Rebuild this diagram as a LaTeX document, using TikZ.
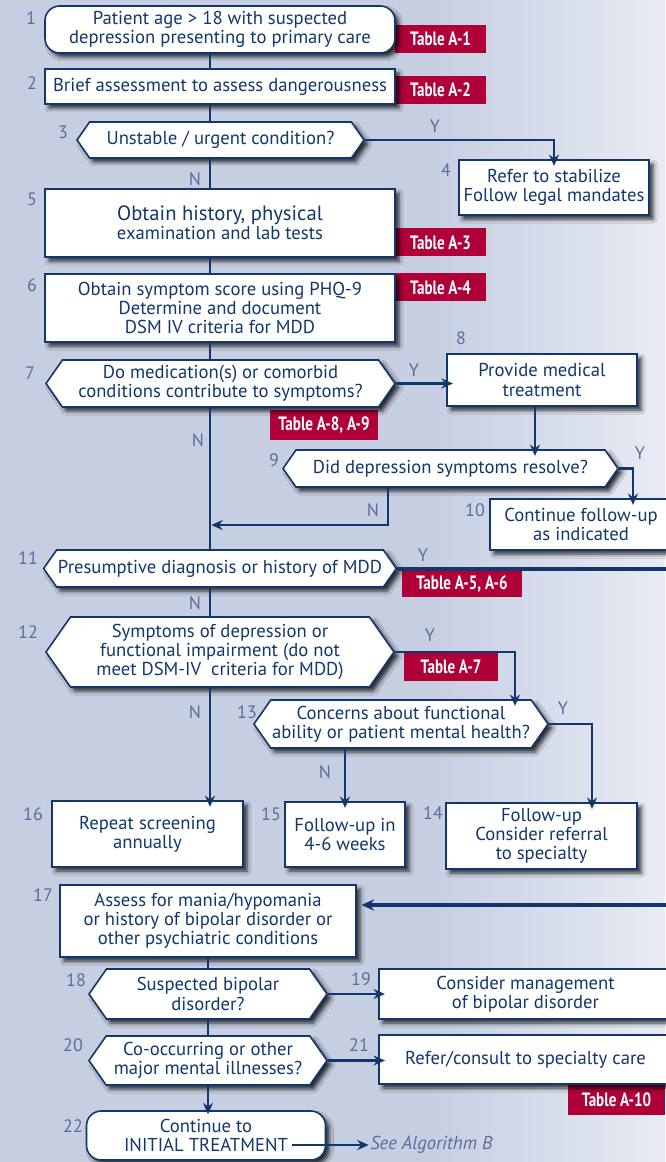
\documentclass[tikz,border=0pt]{standalone}
\usepackage{fontspec}
\setmainfont{PT Sans}
\newfontfamily\tagfont{PT Sans}[FakeStretch=0.78]
\usetikzlibrary{shapes.symbols,arrows.meta,shadows.blur}
\definecolor{bgblue}{RGB}{198,206,226}
\definecolor{bglight}{RGB}{232,235,244}
\definecolor{navy}{RGB}{18,55,108}
\definecolor{numgray}{RGB}{90,110,155}
\definecolor{tagred}{RGB}{175,0,55}
\begin{document}
\begin{tikzpicture}[x=0.75pt,y=-0.75pt,
    boxbase/.style={draw=navy,line width=1.2pt,fill=white,text=navy,align=center,
      inner sep=1pt,font=\fontsize{14}{14.4}\selectfont,
      blur shadow={shadow xshift=3pt,shadow yshift=-3pt,shadow blur radius=3pt,shadow opacity=80}},
    stepbox/.style={boxbase,rectangle},
    startbox/.style={boxbase,rectangle,rounded corners=11pt},
    hexbox/.style={boxbase,signal,signal to=west and east,signal pointer angle=110},
    tagbox/.style={fill=tagred,text=white,inner sep=0pt,font=\tagfont\bfseries\fontsize{14.5}{14.5}\selectfont},
    lbl/.style={text=numgray,inner sep=0pt,font=\fontsize{13.5}{14}\selectfont},
    conn/.style={draw=navy,line width=2.1pt},
    bigconn/.style={draw=navy,line width=3pt},
    arr/.style={conn,-{Stealth[length=8.5pt,width=7.5pt]},shorten >=-5pt},
    bigarr/.style={bigconn,-{Stealth[length=9.5pt,width=8.5pt]},shorten >=3.5pt}]
  \useasboundingbox (0,0) rectangle (665,1162);
  % background
  \fill[bgblue] (0,0) rectangle (430,1162);
  \shade[left color=bgblue,right color=bglight] (430,0) rectangle (665,1162);

  % table tags (under the boxes)
  \node[tagbox,minimum width=68.25pt,minimum height=21pt] (tA1) at (440.5,39) {Table A-1};
  \node[tagbox,minimum width=68.25pt,minimum height=21pt] (tA2) at (440.5,90) {Table A-2};
  \node[tagbox,minimum width=68.25pt,minimum height=21pt] (tA3) at (440.5,242.5) {Table A-3};
  \node[tagbox,minimum width=68.25pt,minimum height=21pt] (tA4) at (440.5,287.5) {Table A-4};
  \node[tagbox,minimum width=81pt,minimum height=22.5pt] (tA89) at (324,425) {Table A-8, A-9};
  \node[tagbox,minimum width=90pt,minimum height=19.5pt] (tA56) at (462,584) {Table A-5, A-6};
  \node[tagbox,minimum width=70.5pt,minimum height=21pt] (tA7) at (451,667) {Table A-7};
  \node[tagbox,minimum width=72.75pt,minimum height=22.5pt] (tA10) at (616.5,1100) {Table A-10};

  % boxes
  \node[startbox,minimum width=262.5pt,minimum height=35.25pt] (n1) at (220,29.5)
    {Patient age > 18 with suspected\\depression presenting to primary care};
  \node[stepbox,minimum width=262.5pt,minimum height=26.25pt] (n2) at (220,86.5)
    {Brief assessment to assess dangerousness};
  \node[hexbox,minimum width=215.25pt,minimum height=27pt] (n3) at (220.5,140)
    {Unstable / urgent condition?};
  \node[stepbox,minimum width=142.5pt,minimum height=41.25pt] (n4) at (554,187.5)
    {Refer to stabilize\\Follow legal mandates};
  \node[stepbox,minimum width=262.5pt,minimum height=51pt] (n5) at (220,223)
    {\fontsize{15.5}{16.5}\selectfont Obtain history, physical\\\fontsize{14}{14.4}\selectfont examination and lab tests};
  \node[stepbox,minimum width=262.5pt,minimum height=51pt] (n6) at (220,308)
    {Obtain symptom score using PHQ-9\\Determine and document\\DSM IV criteria for MDD};
  \node[hexbox,minimum width=261.75pt,minimum height=35.25pt] (n7) at (220.5,383.5)
    {Do medication(s) or comorbid\\conditions contribute to symptoms?};
  \node[stepbox,minimum width=142.5pt,minimum height=39pt] (n8) at (542,380)
    {Provide medical\\treatment};
  \node[hexbox,minimum width=251.25pt,minimum height=27.75pt] (n9) at (450.5,468.5)
    {Did depression symptoms resolve?};
  \node[stepbox,minimum width=136.5pt,minimum height=38.25pt] (n10) at (581,524.5)
    {Continue follow-up\\as indicated};
  \node[hexbox,minimum width=261pt,minimum height=27.75pt] (n11) at (220,568.5)
    {Presumptive diagnosis or history of MDD};
  \node[hexbox,minimum width=261pt,minimum height=52.5pt] (n12) at (220,652)
    {Symptoms of depression or\\functional impairment (do not\\meet DSM-IV\ \ criteria for MDD)};
  \node[hexbox,minimum width=214.5pt,minimum height=36pt] (n13) at (401,724)
    {Concerns about functional\\ability or patient mental health?};
  \node[stepbox,minimum width=143.25pt,minimum height=49.5pt] (n14) at (541.5,836)
    {Follow-up\\Consider referral\\to specialty};
  \node[stepbox,minimum width=90pt,minimum height=48.75pt] (n15) at (345,834.5)
    {Follow-up in\\4-6 weeks};
  \node[stepbox,minimum width=143.25pt,minimum height=49.5pt] (n16) at (147.5,834)
    {Repeat screening\\annually};
  \node[stepbox,minimum width=222pt,minimum height=54pt] (n17) at (208,921)
    {Assess for mania/hypomania\\or history of bipolar disorder or\\other psychiatric conditions};
  \node[hexbox,minimum width=178.5pt,minimum height=37.5pt] (n18) at (208,994)
    {Suspected bipolar\\disorder?};
  \node[stepbox,minimum width=219.75pt,minimum height=37.5pt] (n19) at (525.5,994)
    {Consider management\\of bipolar disorder};
  \node[hexbox,minimum width=178.5pt,minimum height=36.75pt] (n20) at (208,1060.5)
    {Co-occurring or other\\major mental illnesses?};
  \node[stepbox,minimum width=219.75pt,minimum height=36.75pt] (n21) at (525.5,1059.5)
    {Refer/consult to specialty care};
  \node[startbox,minimum width=179.25pt,minimum height=36.75pt] (n22) at (206,1135.5)
    {Continue to\\INITIAL TREATMENT};
  \node[lbl,anchor=west,font=\itshape\fontsize{14}{14}\selectfont] (seeB) at (370,1145) {See Algorithm B};

  % step numbers
  \node[lbl] (l1) at (31,18) {1};
  \node[lbl] (l2) at (32,83) {2};
  \node[lbl] (l3) at (63,132) {3};
  \node[lbl] (l4) at (446,170) {4};
  \node[lbl] (l5) at (32,199) {5};
  \node[lbl] (l6) at (32,285) {6};
  \node[lbl] (l7) at (30,373) {7};
  \node[lbl] (l8) at (461,338) {8};
  \node[lbl] (l9) at (274,460) {9};
  \node[lbl] (l10) at (475,510) {10};
  \node[lbl] (l11) at (28,558) {11};
  \node[lbl] (l12) at (28,632) {12};
  \node[lbl] (l13) at (247,712) {13};
  \node[lbl] (l14) at (433,813) {14};
  \node[lbl] (l15) at (271,814) {15};
  \node[lbl] (l16) at (33,814) {16};
  \node[lbl] (l17) at (43,895) {17};
  \node[lbl] (l18) at (76,980) {18};
  \node[lbl] (l19) at (361,979) {19};
  \node[lbl] (l20) at (73,1045) {20};
  \node[lbl] (l21) at (359,1045) {21};
  \node[lbl] (l22) at (73,1126) {22};

  % yes / no
  \node[lbl] (y3) at (435,126) {Y};
  \node[lbl] (no3) at (195,179) {N};
  \node[lbl] (y7) at (414,370) {Y};
  \node[lbl] (no7) at (198,440) {N};
  \node[lbl] (y9) at (640,453) {Y};
  \node[lbl] (no9) at (373,510) {N};
  \node[lbl] (y11) at (423,555) {Y};
  \node[lbl] (no11) at (195,603) {N};
  \node[lbl] (y12) at (430,635) {Y};
  \node[lbl] (no12) at (195,712) {N};
  \node[lbl] (y13) at (563,708) {Y};
  \node[lbl] (no13) at (325,772) {N};

  % connectors
  \coordinate (mainx) at (210,0);
  \coordinate (x89) at (535,0);
  \coordinate (x910) at (633,0);
  \coordinate (x9n) at (388,0);
  \coordinate (j9) at (210,525);
  \coordinate (x1213) at (515,0);
  \coordinate (x1314) at (592,0);
  \coordinate (e11) at (672,568);
  \coordinate (e17) at (672,905);
  \coordinate (c22) at (292,1145);

  \draw[conn] (n1.south -| mainx) -- (n2.north -| mainx);
  \draw[conn] (n2.south -| mainx) -- (n3.north -| mainx);
  \draw[conn] (n3.south -| mainx) -- (n5.north -| mainx);
  \draw[conn] (n5.south -| mainx) -- (n6.north -| mainx);
  \draw[conn] (n6.south -| mainx) -- (n7.north -| mainx);
  \draw[conn] (n7.south -| mainx) -- (n11.north -| mainx);
  \draw[conn] (n11.south -| mainx) -- (n12.north -| mainx);
  \draw[arr] (n12.south -| mainx) -- (n16.north -| mainx);
  \draw[arr] (n3.east) -| (n4.north);
  \draw[arr] (n7.east) -- (n7.east -| n8.west);
  \draw[arr] (n8.south -| x89) -- (n9.north -| x89);
  \draw[arr] (n9.east) -| (n10.north -| x910);
  \draw[arr,shorten >=1pt] (n9.south -| x9n) |- (j9);
  \draw[bigconn] (n11.east) -- (n11.east -| e11);
  \draw[arr] (n12.east) -| (n13.north -| x1213);
  \draw[arr] (n13.east) -| (n14.north -| x1314);
  \draw[arr] (n13.south -| n15.north) -- (n15.north);
  \draw[bigarr] (e17) -- (e17 -| n17.east);
  \draw[conn] (n17.south) -- (n18.north);
  \draw[conn] (n18.south) -- (n20.north);
  \draw[arr,shorten >=-3pt] (n20.south) -- (n20.south |- n22.north);
  \draw[arr] (n18.east) -- (n18.east -| n19.west);
  \draw[arr] (n20.east) -- (n20.east -| n21.west);
  \draw[arr,shorten >=1pt] (c22) -- (seeB.west);
\end{tikzpicture}
\end{document}
